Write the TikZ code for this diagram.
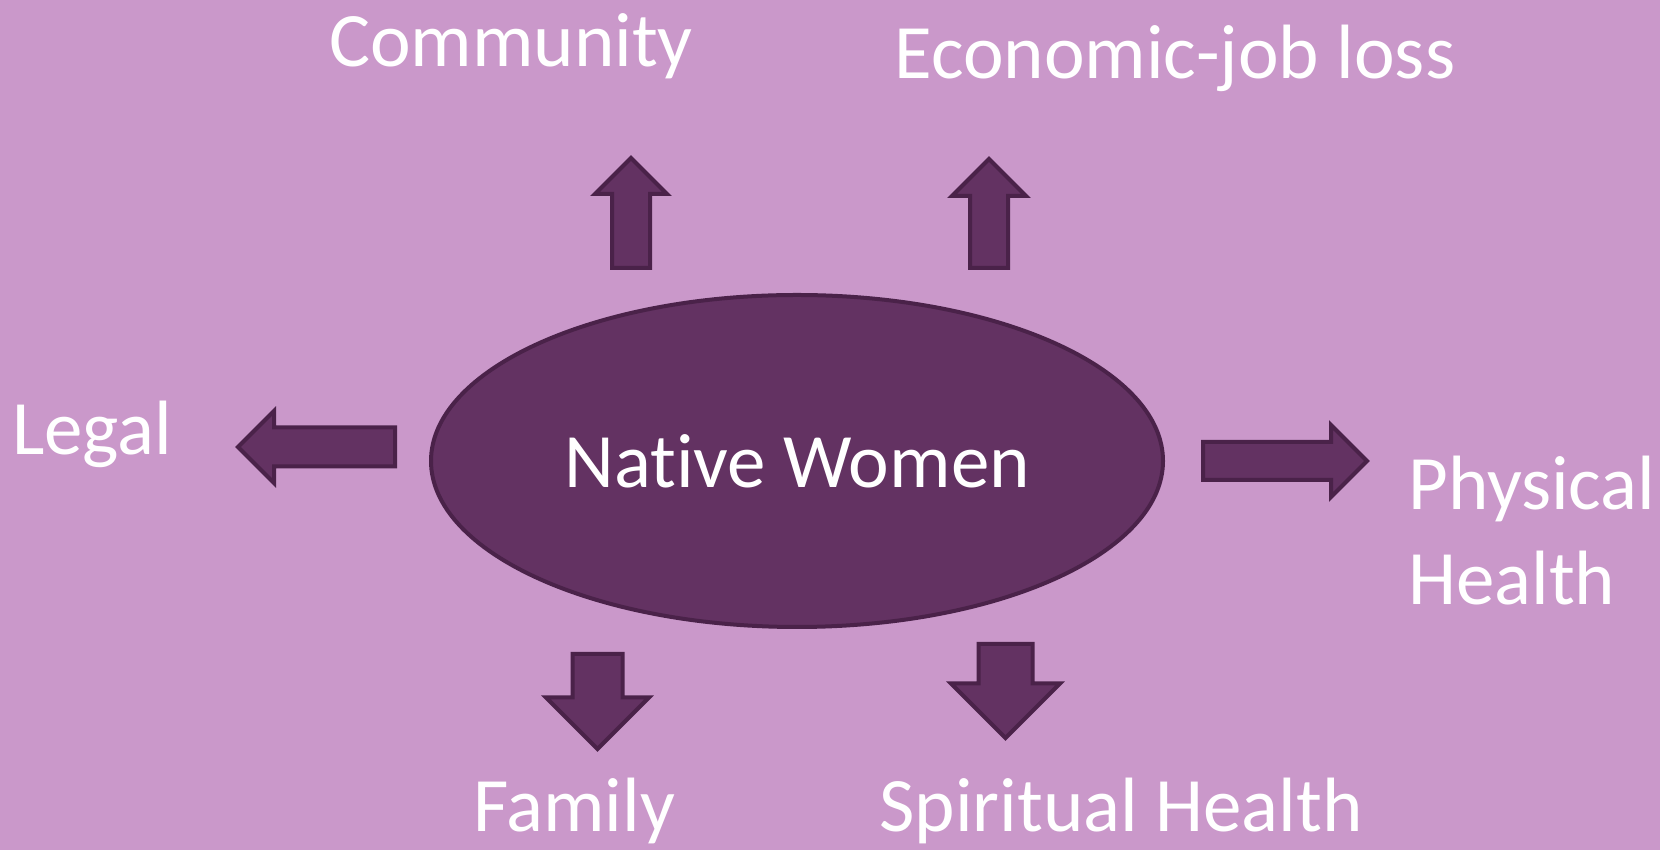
\documentclass[tikz,border=0pt]{standalone}
\usepackage{fontspec}
\setmainfont{Carlito}[Ligatures={NoCommon,NoDiscretionary}]
\usetikzlibrary{shapes.geometric,shapes.arrows}
\definecolor{slidebg}{RGB}{202,152,202}
\definecolor{plumfill}{RGB}{99,50,98}
\definecolor{plumedge}{RGB}{74,34,73}
\begin{document}
\begin{tikzpicture}[x=1pt,y=1pt,
  blockarrow/.style={single arrow, draw=plumedge, fill=plumfill, line width=4pt,
    inner xsep=0pt, outer sep=0pt, single arrow head indent=0pt, anchor=tail},
  lbl/.style={text=white, inner sep=0pt, font=\fontsize{77}{95}\selectfont}]
%background
\fill [slidebg] (0,0) rectangle (1660,850);
\useasboundingbox (0,0) rectangle (1660,850);

%Shape: Ellipse
\node (women) [ellipse, draw=plumedge, fill=plumfill, line width=4pt, inner sep=0pt,
  minimum width=732, minimum height=332, lbl] at (797,389) {Native Women};

%Block arrows
\node (upA) [blockarrow, rotate=90, minimum height=110, inner ysep=17,
  single arrow head extend=17] at (631,582) {};
\node (upB) [blockarrow, rotate=90, minimum height=109, inner ysep=17,
  single arrow head extend=18] at (989,582) {};
\node (leftA) [blockarrow, rotate=180, minimum height=157, inner ysep=17.5,
  single arrow head extend=16.5] at (395,403) {};
\node (rightA) [blockarrow, minimum height=164, inner ysep=17,
  single arrow head extend=17] at (1203,389) {};
\node (downA) [blockarrow, rotate=-90, minimum height=95, inner ysep=23,
  single arrow head extend=26.5] at (597.5,196) {};
\node (downB) [blockarrow, rotate=-90, minimum height=94, inner ysep=25,
  single arrow head extend=27.5] at (1005.5,206) {};

% Text Node
\node (community) [lbl, anchor=base] at (511,783) {Community};
% Text Node
\node (economic) [lbl, anchor=base] at (1175,771) {Economic-job loss};
% Text Node
\node (legal) [lbl, anchor=base west] at (12,395) {Legal};
% Text Node
\node (physical) [lbl, anchor=base west, align=left] at (1408,245) {Physical\\Health};
% Text Node
\node (family) [lbl, anchor=base] at (574,18) {Family};
% Text Node
\node (spiritual) [lbl, anchor=base] at (1121,18) {Spiritual Health};
\end{tikzpicture}
\end{document}
